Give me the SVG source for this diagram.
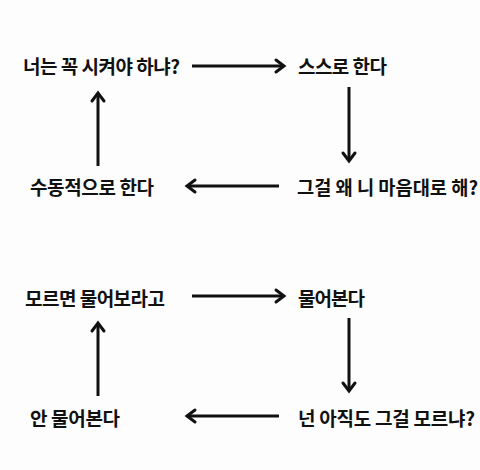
<svg xmlns="http://www.w3.org/2000/svg" width="480" height="470" viewBox="0 0 480 470">
<defs>
<style>
.t{font-family:"Noto Sans CJK KR","Noto Sans",sans-serif;font-weight:bold;font-size:19px;fill:#111;dominant-baseline:central}
.c{stroke:#111;stroke-width:3;fill:none}
.h{stroke:#111;stroke-width:3;fill:none;stroke-linecap:round;stroke-linejoin:miter}
</style>
</defs>
<rect width="480" height="470" fill="#fdfdfd"/>
<g id="n1"><text class="t" x="23" y="65" textLength="157" lengthAdjust="spacing">너는 꼭 시켜야 하냐?</text></g>
<g id="n2"><text class="t" x="298" y="65" textLength="89" lengthAdjust="spacing">스스로 한다</text></g>
<g id="n3"><text class="t" x="297" y="186" textLength="181" lengthAdjust="spacingAndGlyphs">그걸 왜 니 마음대로 해?</text></g>
<g id="n4"><text class="t" x="30" y="186" textLength="124" lengthAdjust="spacing">수동적으로 한다</text></g>
<g id="n5"><text class="t" x="25" y="297" textLength="140" lengthAdjust="spacing">모르면 물어보라고</text></g>
<g id="n6"><text class="t" x="298" y="297" textLength="67" lengthAdjust="spacing">물어본다</text></g>
<g id="n7"><text class="t" x="298" y="417" textLength="177" lengthAdjust="spacing">넌 아직도 그걸 모르냐?</text></g>
<g id="n8"><text class="t" x="30" y="417" textLength="90" lengthAdjust="spacing">안 물어본다</text></g>
<g id="connectors">
<line class="c" x1="192" y1="66" x2="283" y2="66"/><path class="h" d="M276 60 L284 66 L276 72"/>
<line class="c" x1="349" y1="87" x2="349" y2="160"/><path class="h" d="M343 153 L349 161 L355 153"/>
<line class="c" x1="279" y1="186" x2="188" y2="186"/><path class="h" d="M195 180 L187 186 L195 192"/>
<line class="c" x1="98" y1="166" x2="98" y2="94"/><path class="h" d="M92 101 L98 93 L104 101"/>
<line class="c" x1="192" y1="296" x2="283" y2="296"/><path class="h" d="M276 290 L284 296 L276 302"/>
<line class="c" x1="349" y1="318" x2="349" y2="390"/><path class="h" d="M343 383 L349 391 L355 383"/>
<line class="c" x1="279" y1="416" x2="188" y2="416"/><path class="h" d="M195 410 L187 416 L195 422"/>
<line class="c" x1="98" y1="396" x2="98" y2="324"/><path class="h" d="M92 331 L98 323 L104 331"/>
</g>
</svg>
